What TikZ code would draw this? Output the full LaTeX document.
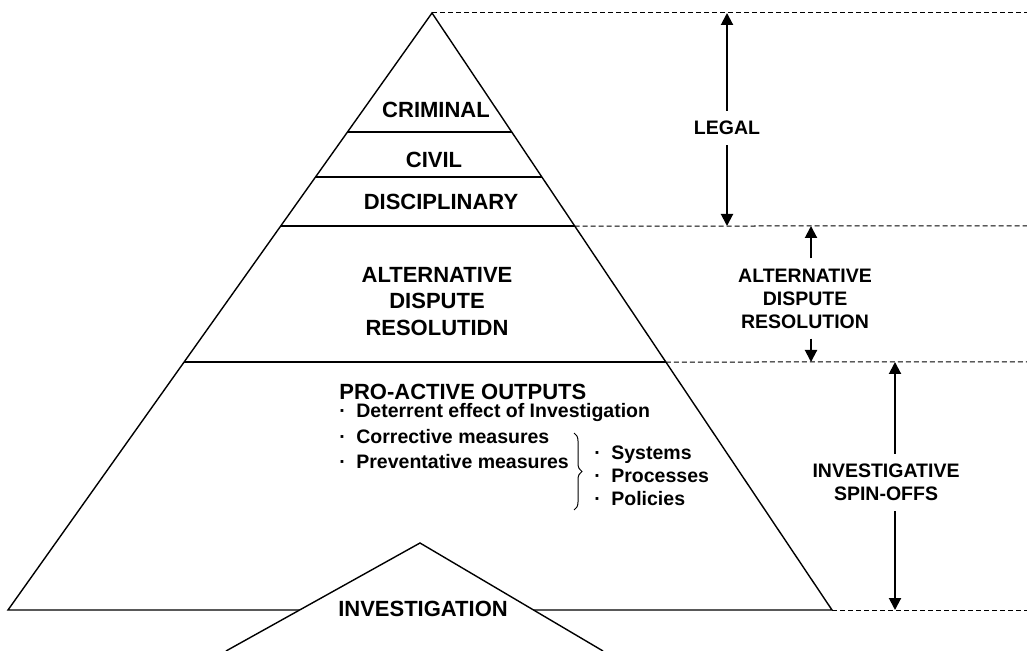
\documentclass[tikz,border=0pt]{standalone}
\usepackage{fontspec}
\setmainfont{Liberation Sans}
\usetikzlibrary{arrows.meta,calc,decorations.pathreplacing}

\begin{document}
\begin{tikzpicture}[x=0.5pt,y=-0.5pt,
            capa/.style={font=\fontsize{11}{13.25}\selectfont\bfseries, align=center, inner sep=0pt},
            titulo/.style={font=\fontsize{11}{13}\selectfont\bfseries, anchor=base west, inner sep=0pt},
            lado/.style={font=\fontsize{9.75}{11.5}\selectfont\bfseries, align=center, inner sep=5pt},
            punto/.style={font=\fontsize{9.75}{12}\selectfont\bfseries, anchor=base west, inner sep=0pt},
            guia/.style={line width=0.5pt, dash pattern=on 2.5pt off 1.5pt},
            flecha/.style={line width=1pt, -{Triangle[length=6pt,width=6pt]}},
            borde/.style={line width=0.7pt}]
            \useasboundingbox (0,0) rectangle (1027,651);

            % Pirámide
            \coordinate (apice) at (432,13);
            \coordinate (izq) at (8,610);
            \coordinate (der) at (832,610);
            \draw[borde] (izq) -- (apice) -- (der) -- cycle;

            % Capas
            \foreach \t/\n in {0.1993/a, 0.2747/b, 0.3568/c, 0.5846/d}
                \draw[borde] ($(apice)!\t!(izq)$) -- ($(apice)!\t!(der)$) coordinate (r\n);

            % Triángulo de la investigación
            \coordinate (ti) at (226,651);
            \coordinate (ta) at (420,543);
            \coordinate (td) at (603,651);
            \filldraw[borde, fill=white] (ti) -- (ta) -- (td);

            % Líneas discontinuas
            \draw[guia] (apice) -- (1027,13);
            \draw[guia] (rc) -- (1027,226);
            \draw[guia] (rd) -- (1027,362);
            \draw[guia] (der) -- (1027,610);

            % Textos de las capas
            \node[capa] (criminal) at (436,110) {CRIMINAL};
            \node[capa] (civil) at (434,160) {CIVIL};
            \node[capa] (disciplinaria) at (441,202) {DISCIPLINARY};
            \node[capa] (adr) at (437,301.5) {ALTERNATIVE\\DISPUTE\\RESOLUTIDN};
            \node[capa] (investigacion) at (423,609) {INVESTIGATION};

            % Salidas proactivas
            \node[titulo] (proactiva) at (339,400) {PRO-ACTIVE OUTPUTS};
            \node[punto] (disuasion) at (339,418) {\makebox[8.5pt][l]{·}Deterrent effect of Investigation};
            \node[punto] (correctiva) at (339,444) {\makebox[8.5pt][l]{·}Corrective measures};
            \node[punto] (preventiva) at (339,469) {\makebox[8.5pt][l]{·}Preventative measures};
            \coordinate (llave1) at (574,433);
            \coordinate (llave2) at (574,510);
            \draw[decorate, decoration={brace, amplitude=4pt}, line width=0.5pt] (llave1) -- (llave2);
            \node[punto] (sistemas) at (594,460) {\makebox[8.5pt][l]{·}Systems};
            \node[punto] (procesos) at (594,483) {\makebox[8.5pt][l]{·}Processes};
            \node[punto] (politicas) at (594,506) {\makebox[8.5pt][l]{·}Policies};

            % Flechas laterales
            \coordinate (legal1) at (727,13);
            \coordinate (legal2) at (727,226);
            \node[lado] (legal) at (727,128) {LEGAL};
            \draw[flecha] (legal) -- (legal1);
            \draw[flecha] (legal) -- (legal2);

            \coordinate (adr1) at (811,226);
            \coordinate (adr2) at (811,362);
            \node[lado] (adrlado) at (805,298.5) {ALTERNATIVE\\DISPUTE\\RESOLUTION};
            \draw[flecha] (adrlado.north -| adr1) -- (adr1);
            \draw[flecha] (adrlado.south -| adr2) -- (adr2);

            \coordinate (giro1) at (895,362);
            \coordinate (giro2) at (895,610);
            \node[lado] (giros) at (886,482.5) {INVESTIGATIVE\\SPIN-OFFS};
            \draw[flecha] (giros.north -| giro1) -- (giro1);
            \draw[flecha] (giros.south -| giro2) -- (giro2);
\end{tikzpicture}
\end{document}
